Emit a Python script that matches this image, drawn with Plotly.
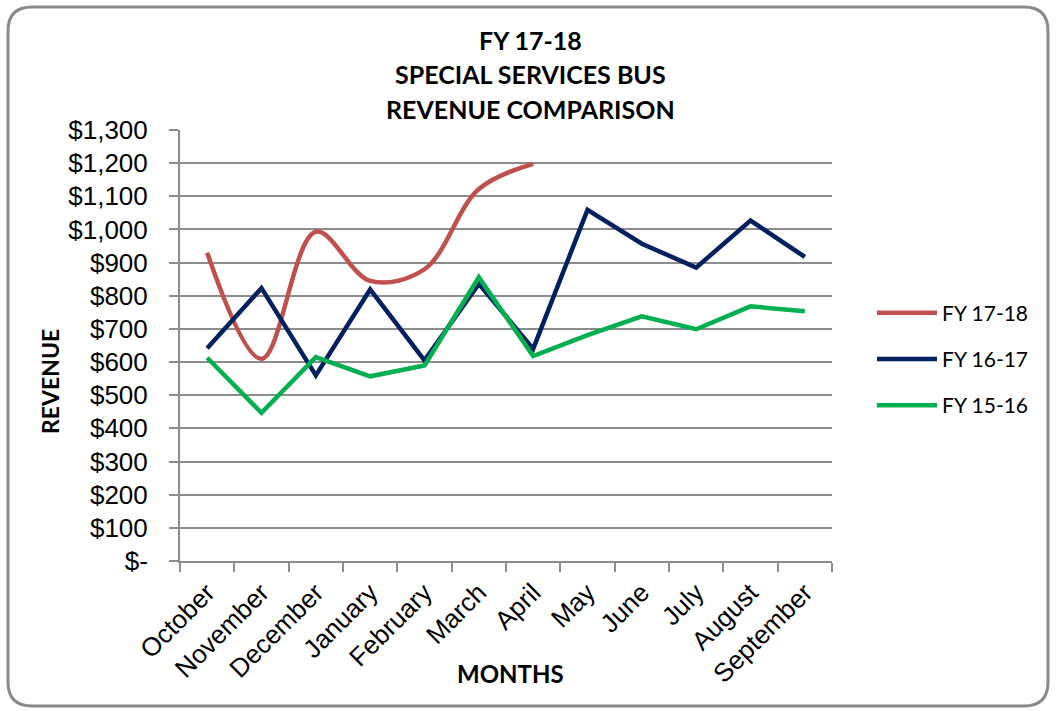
import plotly.graph_objects as go

months = ["October", "November", "December", "January", "February", "March",
          "April", "May", "June", "July", "August", "September"]
fy1718 = [930, 610, 993, 845, 880, 1122, 1198]
fy1617 = [642, 823, 560, 819, 605, 836, 640, 1059, 957, 885, 1027, 917]
fy1516 = [613, 447, 615, 557, 590, 856, 618, 681, 738, 699, 768, 753]
y_tick_vals = [0, 100, 200, 300, 400, 500, 600, 700, 800, 900, 1000, 1100, 1200, 1300]
y_tick_text = ["$-", "$100", "$200", "$300", "$400", "$500", "$600", "$700",
               "$800", "$900", "$1,000", "$1,100", "$1,200", "$1,300"]

W, H = 1056, 711
L, R, T, B = 180, 832, 130, 561


def px(x):
    return (x - L) / (R - L)


def py(y):
    return (B - y) / (B - T)


fig = go.Figure()
fig.add_trace(go.Scatter(x=months[:len(fy1718)], y=fy1718, mode="lines", name="FY 17-18",
                         line=dict(color="#C0504D", width=4.5, shape="spline"),
                         legendgroup="a"))
fig.add_trace(go.Scatter(x=months, y=fy1617, mode="lines", name="FY 16-17",
                         line=dict(color="#002060", width=4.5), legendgroup="b"))
fig.add_trace(go.Scatter(x=months, y=fy1516, mode="lines", name="FY 15-16",
                         line=dict(color="#00B050", width=4.5), legendgroup="c"))

grid = "#8C8C8C"
fig.update_xaxes(type="category", categoryorder="array", categoryarray=months,
                 range=[-0.5, 11.5], tickson="boundaries", ticks="outside", ticklen=9,
                 tickcolor=grid, tickwidth=1.5, showline=True, linecolor=grid, linewidth=2,
                 tickangle=-45, showgrid=False, ticklabelstandoff=4,
                 tickfont=dict(family="Liberation Sans, Arial", size=26, color="black"))
fig.update_yaxes(range=[0, 1300], tickvals=y_tick_vals, ticktext=y_tick_text,
                 ticks="outside", ticklen=9, tickcolor=grid, tickwidth=1.5,
                 showline=True, linecolor=grid, linewidth=2, showgrid=True,
                 gridcolor=grid, gridwidth=1.6, zeroline=False, ticklabelstandoff=16,
                 tickfont=dict(family="Liberation Sans, Arial", size=26, color="black"))

tfont = dict(family="Lato, Open Sans", size=25, color="black")
annotations = []
for txt, yc in [("FY 17-18", 40), ("SPECIAL SERVICES BUS", 74), ("REVENUE COMPARISON", 109)]:
    annotations.append(dict(text="<b>%s</b>" % txt, x=px(530), y=py(yc), xref="paper",
                            yref="paper", xanchor="center", yanchor="middle",
                            showarrow=False, font=tfont))
annotations.append(dict(text="<b>REVENUE</b>", x=px(50), y=py(382), xref="paper", yref="paper",
                        xanchor="center", yanchor="middle", textangle=-90, showarrow=False,
                        font=dict(family="Lato, Open Sans", size=23, color="black")))
annotations.append(dict(text="<b>MONTHS</b>", x=px(511), y=py(673), xref="paper", yref="paper",
                        xanchor="center", yanchor="middle", showarrow=False,
                        font=dict(family="Lato, Open Sans", size=24, color="black")))

x0, y0, x1, y1, r = 8, 7, 1048, 706, 24
path = ("M {a},{b} L {c},{b} Q {e},{b} {e},{f} L {e},{g} Q {e},{h} {c},{h} "
        "L {a},{h} Q {i},{h} {i},{g} L {i},{f} Q {i},{b} {a},{b} Z").format(
    a=px(x0 + r), b=py(y0), c=px(x1 - r), e=px(x1), f=py(y0 + r), g=py(y1 - r),
    h=py(y1), i=px(x0))

fig.update_layout(
    width=W, height=H, margin=dict(l=L, r=W - R, t=T, b=H - B),
    paper_bgcolor="white", plot_bgcolor="white",
    annotations=annotations,
    shapes=[dict(type="path", path=path, xref="paper", yref="paper",
                 line=dict(color="#8A8A8A", width=3), fillcolor="rgba(0,0,0,0)", layer="below")],
    legend=dict(x=px(872), y=py(359), xanchor="left", yanchor="middle",
                font=dict(family="Lato, Open Sans", size=21, color="black"),
                tracegroupgap=16, itemwidth=60, bgcolor="rgba(0,0,0,0)"),
    showlegend=True,
)

fig.write_html("out.html", include_plotlyjs=True, config={"displayModeBar": False},
               post_script="document.body.style.margin='0';document.body.style.overflow='hidden';")
